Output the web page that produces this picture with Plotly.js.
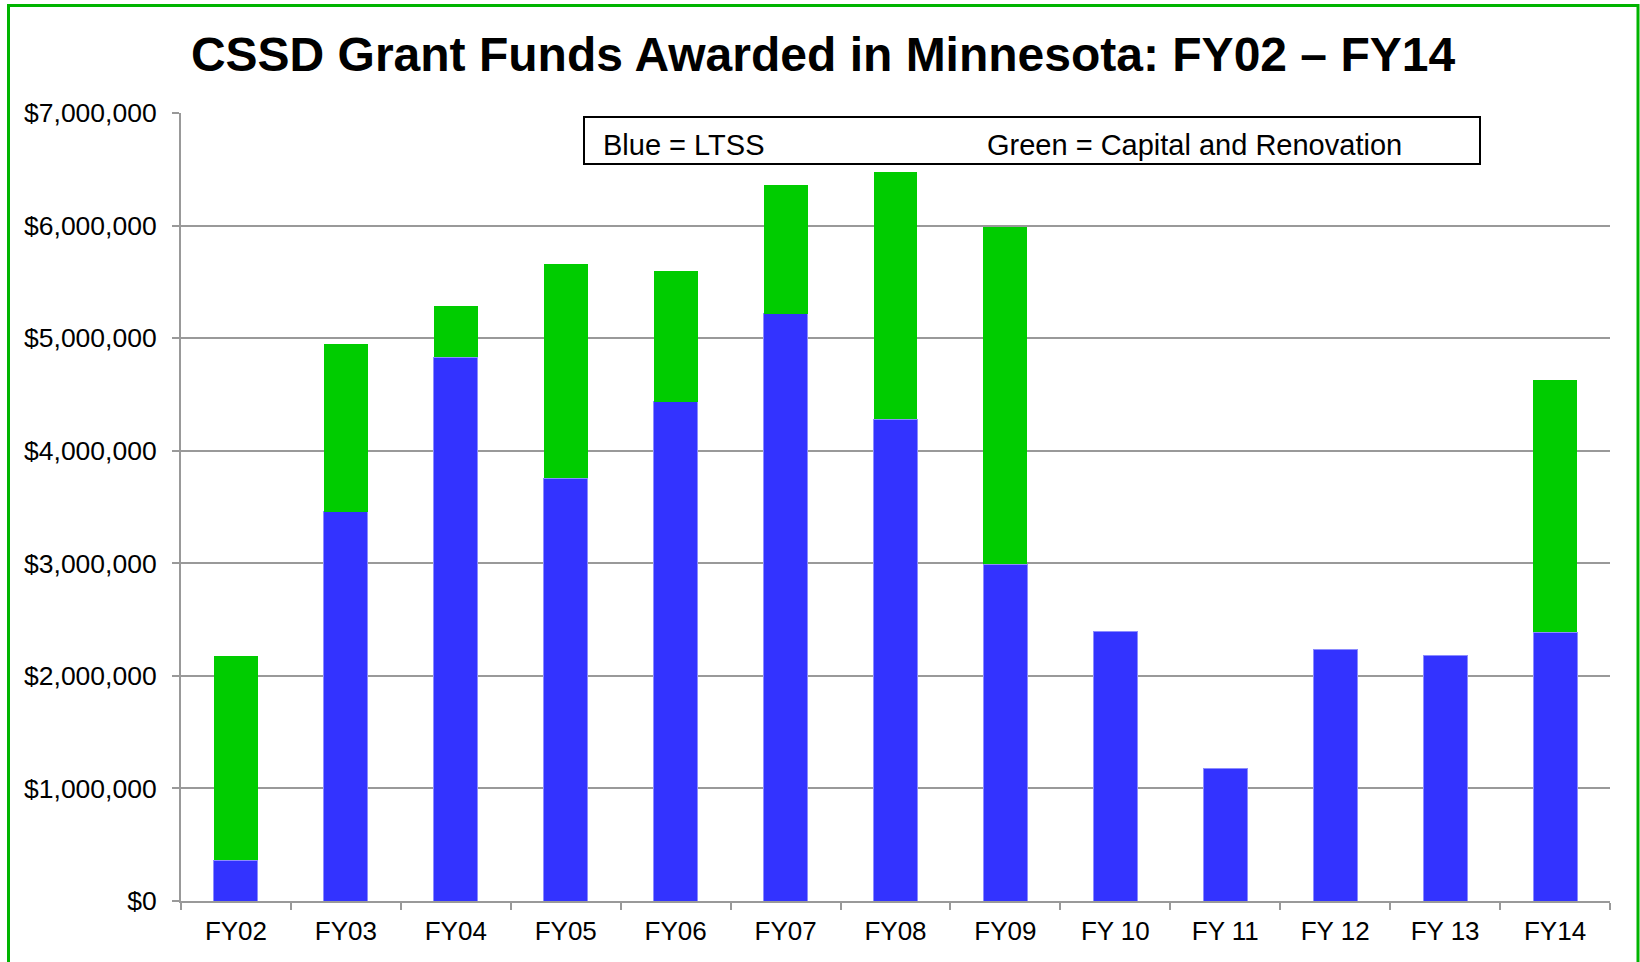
<!DOCTYPE html>
<html>
<head>
<meta charset="utf-8">
<script src="https://cdn.plot.ly/plotly-3.0.1.min.js"></script>
<style>
html, body { margin: 0; padding: 0; background: #fff; }
#chart { width: 1640px; height: 962px; }
</style>
</head>
<body>
<div id="chart"></div>
<script>
const categories = ['FY02', 'FY03', 'FY04', 'FY05', 'FY06', 'FY07', 'FY08', 'FY09', 'FY 10', 'FY 11', 'FY 12', 'FY 13', 'FY14'];
const ltss = [360000, 3460000, 4830000, 3755000, 4435000, 5216000, 4280000, 2990000, 2398000, 1176000, 2238000, 2185000, 2386000];
const capital = [1820000, 1490000, 460000, 1905000, 1165000, 1144000, 2200000, 3000000, 0, 0, 0, 0, 2244000];
const yTicks = [0, 1000000, 2000000, 3000000, 4000000, 5000000, 6000000, 7000000];

const FONT = 'Arial, "Liberation Sans", sans-serif';
const W = 1640, H = 962;
const m = { l: 181, r: 30, t: 113, b: 61 };
const pw = W - m.l - m.r, ph = H - m.t - m.b;
const px = x => (x - m.l) / pw;
const py = y => (H - m.b - y) / ph;

const traces = [
  {
    type: 'bar', name: 'LTSS', x: categories, y: ltss,
    marker: { color: '#3333FF', line: { color: '#8c8cff', width: 1 } },
    hoverinfo: 'x+y'
  },
  {
    type: 'bar', name: 'Capital and Renovation', x: categories, y: capital,
    marker: { color: '#00CC00', line: { width: 0 } },
    hoverinfo: 'x+y'
  }
];

const layout = {
  width: W, height: H,
  margin: m,
  paper_bgcolor: '#fff', plot_bgcolor: '#fff',
  barmode: 'stack', bargap: 0.6,
  showlegend: false,
  font: { family: FONT, color: '#000' },
  title: {
    text: '<b>CSSD Grant Funds Awarded in Minnesota: FY02 \u2013 FY14</b>',
    font: { family: FONT, size: 48, color: '#000' },
    x: 823 / W, xanchor: 'center',
    y: 1 - 54 / H, yanchor: 'middle', yref: 'container', xref: 'container'
  },
  xaxis: {
    type: 'category',
    showline: true, linecolor: '#999999', linewidth: 2,
    ticks: 'outside', tickson: 'boundaries', ticklen: 7, tickwidth: 2, tickcolor: '#999999',
    ticklabelstandoff: 6,
    tickfont: { family: FONT, size: 26, color: '#000' },
    showgrid: false, zeroline: false
  },
  yaxis: {
    range: [0, 7000000],
    tickvals: yTicks,
    tickformat: '$,.0f',
    showline: true, linecolor: '#999999', linewidth: 2,
    ticks: 'outside', ticklen: 7, tickwidth: 2, tickcolor: '#999999',
    ticklabelstandoff: 10,
    tickfont: { family: FONT, size: 26.5, color: '#000' },
    showgrid: true, gridcolor: '#999999', gridwidth: 2,
    zeroline: false
  },
  shapes: [
    { type: 'rect', xref: 'paper', yref: 'paper', x0: px(584), x1: px(1480), y0: py(164), y1: py(117),
      line: { color: '#000', width: 2 }, fillcolor: '#fff', layer: 'above' },
    { type: 'path', xref: 'paper', yref: 'paper',
      path: `M ${px(8.5)} ${py(970)} L ${px(8.5)} ${py(5.5)} L ${px(1638)} ${py(5.5)} L ${px(1638)} ${py(970)}`,
      line: { color: '#00B400', width: 3 }, layer: 'above' }
  ],
  annotations: [
    { xref: 'paper', yref: 'paper', x: px(601), y: py(145), xanchor: 'left', yanchor: 'middle',
      text: 'Blue = LTSS', showarrow: false, font: { family: FONT, size: 29, color: '#000' } },
    { xref: 'paper', yref: 'paper', x: px(985), y: py(145), xanchor: 'left', yanchor: 'middle',
      text: 'Green = Capital and Renovation', showarrow: false, font: { family: FONT, size: 29, color: '#000' } }
  ]
};

Plotly.newPlot('chart', traces, layout, { displayModeBar: false });
</script>
</body>
</html>
